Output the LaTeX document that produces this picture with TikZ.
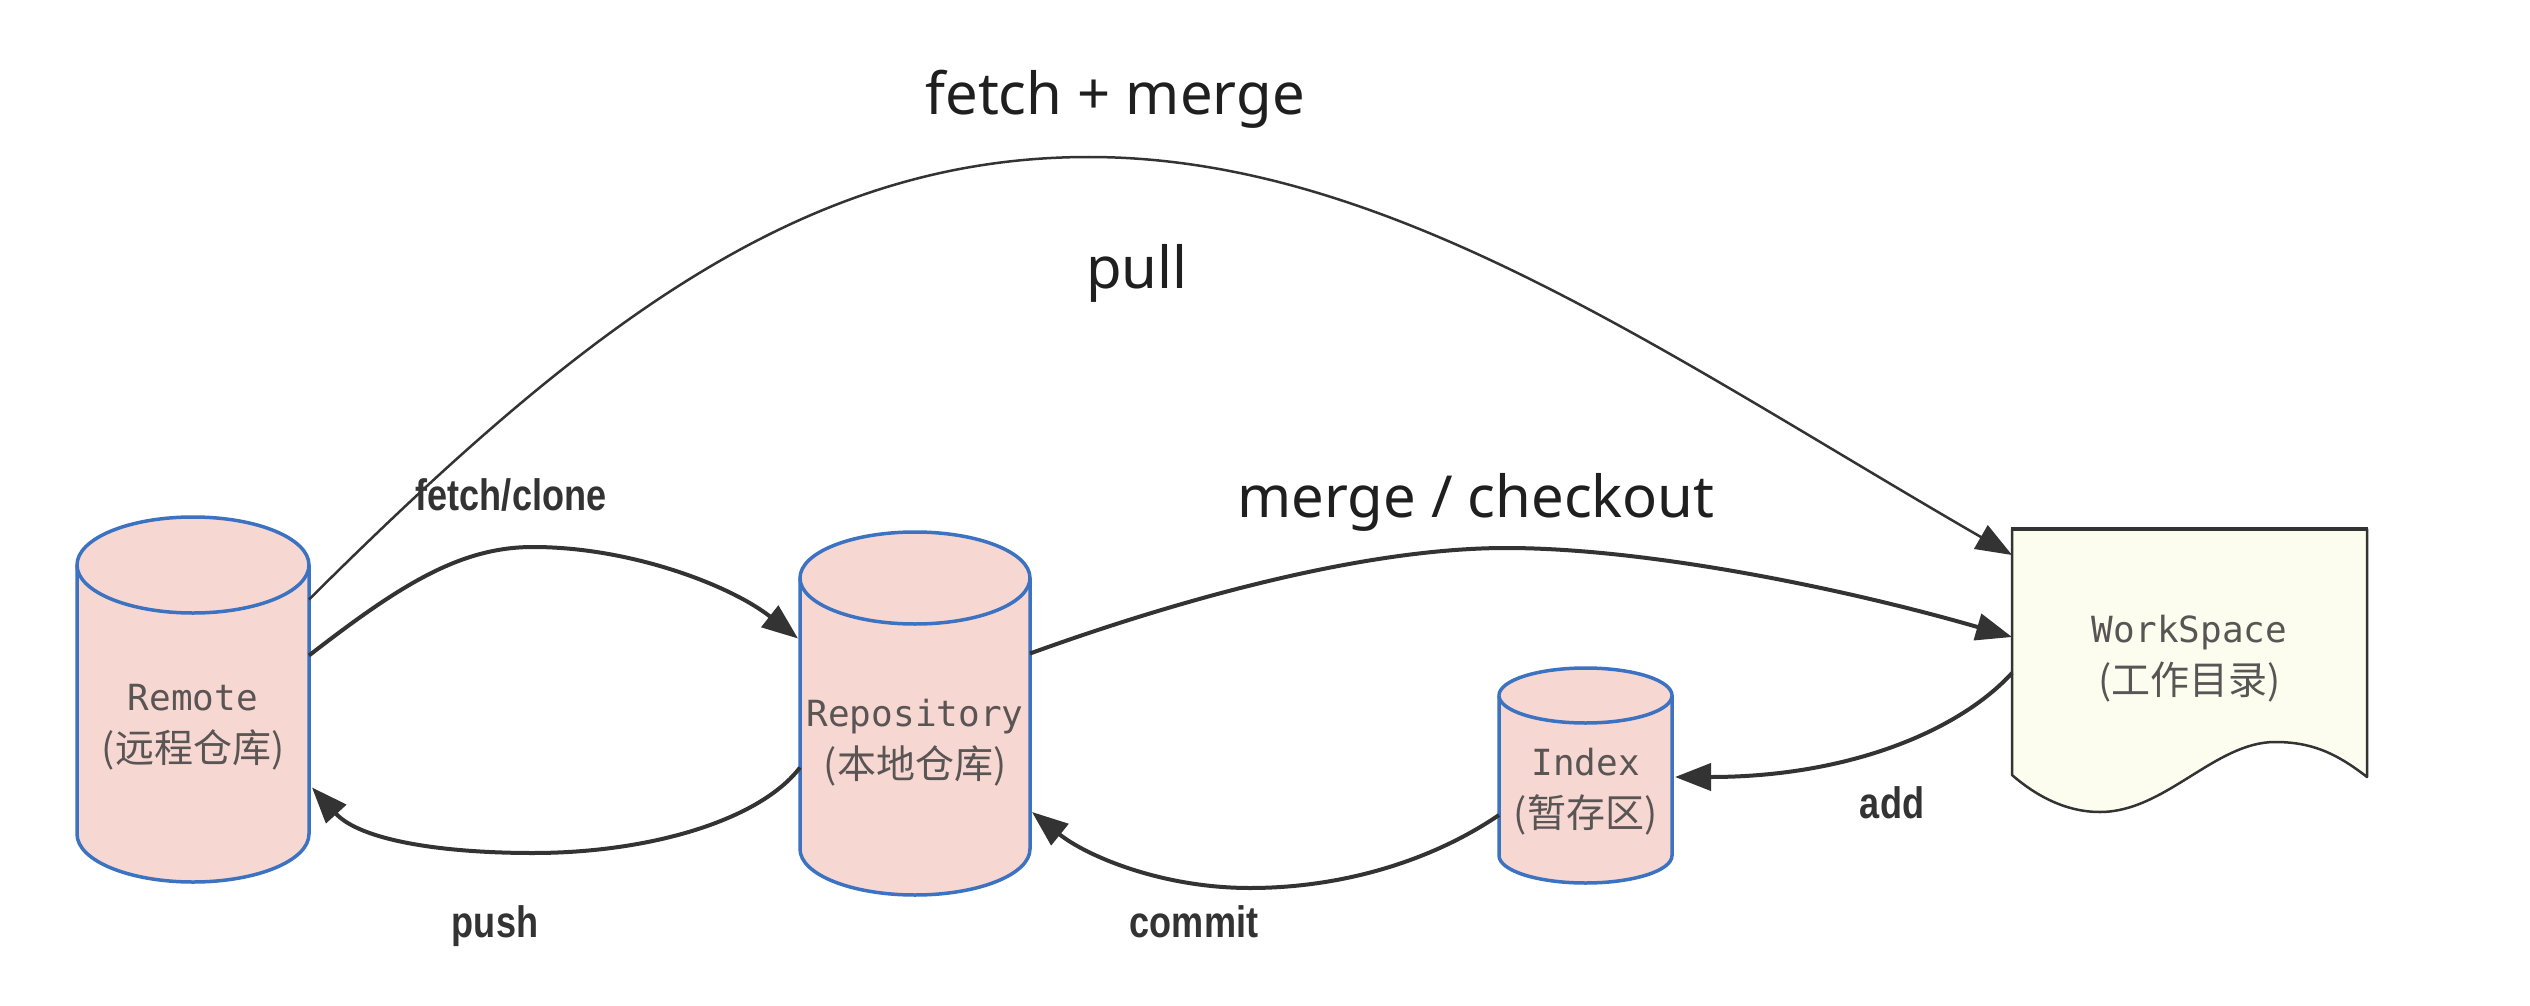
\documentclass[tikz,border=0pt]{standalone}
\usepackage{fontspec}
\usetikzlibrary{arrows.meta,calc}
\newfontfamily\monofont{DejaVu Sans Mono}
\newfontfamily\cjkfont{Noto Sans CJK SC}
\newfontfamily\labelfont{Noto Sans}
\newfontfamily\boldnarrow{Liberation Sans}[FakeStretch=0.82]
\definecolor{cylfill}{HTML}{F7D7D1}
\definecolor{cylline}{HTML}{3C72C2}
\definecolor{docfill}{HTML}{FDFDEF}
\definecolor{ink}{HTML}{333333}
\definecolor{nodeink}{HTML}{5A5555}
\newcommand\cjktext[1]{{\cjkfont\fontsize{39}{52}\selectfont #1}}
\newcommand\cylshape[5]{%
  \filldraw[cyl] (#1-#4,#2+#5) -- (#1-#4,#3-#5)
    arc[start angle=180,end angle=360,x radius=#4pt,y radius=#5pt]
    -- (#1+#4,#2+#5)
    arc[start angle=0,end angle=180,x radius=#4pt,y radius=#5pt] -- cycle;
  \draw[cyl] (#1-#4,#2+#5)
    arc[start angle=180,end angle=360,x radius=#4pt,y radius=#5pt];
}
\begin{document}
\begin{tikzpicture}[x=1pt,y=-1pt,
  cyl/.style={draw=cylline,fill=cylfill,line width=3.5pt},
  docshape/.style={draw=ink,fill=docfill,line width=2.5pt,line join=round},
  anchorbox/.style={rectangle,draw=none,inner sep=0pt,outer sep=0pt},
  nodetext/.style={align=center,text=nodeink,inner sep=0pt,
    font=\monofont\fontsize{36}{52}\selectfont},
  conn/.style={draw=ink,line width=4pt,-{Triangle[length=36pt,width=27pt]}},
  thinconn/.style={draw=ink,line width=2.5pt,-{Triangle[length=36pt,width=27pt]}},
  biglabel/.style={text=black!88,inner sep=0pt,
    font=\labelfont\fontsize{58}{70}\selectfont},
  boldlabel/.style={text=ink,inner sep=0pt,
    font=\boldnarrow\bfseries\fontsize{44}{52}\selectfont}]
\fill[white] (0,0) rectangle (2530,1006);
\useasboundingbox (0,0) rectangle (2530,1006);

% shapes
\cylshape{193}{517}{882}{116}{48}
\cylshape{915}{532}{895}{115}{46}
\cylshape{1585.5}{668}{883}{86.5}{27.5}
\filldraw[docshape] (2012,529) -- (2367,529) -- (2367,777)
  .. controls (2335,752) and (2310,742) .. (2275,742)
  .. controls (2215,742) and (2165,812) .. (2100,812)
  .. controls (2065,812) and (2035,795) .. (2012,775) -- cycle;
\draw[draw=ink,line width=4.5pt] (2010.75,529) -- (2368.25,529);

% anchor nodes
\node[anchorbox,minimum width=232pt,minimum height=365pt] (remote) at (193,699.5) {};
\node[anchorbox,minimum width=230pt,minimum height=363pt] (repo) at (915,713.5) {};
\node[anchorbox,minimum width=173pt,minimum height=215pt] (index) at (1585.5,775.5) {};
\node[anchorbox,minimum width=355pt,minimum height=248pt] (ws) at (2189.5,653) {};

% texts in shapes
\node[nodetext] (remote-txt) at ($(remote)+(0,28)$) {Remote\\\cjktext{(远程仓库)}};
\node[nodetext] (repo-txt) at ($(repo)+(0,29)$) {Repository\\\cjktext{(本地仓库)}};
\node[nodetext] (index-txt) at ($(index)+(0,16)$) {Index\\\cjktext{(暂存区)}};
\node[nodetext] (ws-txt) at ($(ws)+(0,6)$) {WorkSpace\\\cjktext{(工作目录)}};

% connectors
\draw[thinconn] ($(remote.east)+(0,-100)$)
  .. controls (593,317) and (809,157) .. (1089,157)
  .. controls (1389,157) and (1666,355) .. ($(ws.west)+(0,-98)$);
\draw[conn] ($(remote.east)+(0,-44)$)
  .. controls (400,585) and (460,547) .. (533,547)
  .. controls (630,547) and (730,585) .. ($(repo.west)+(-2,-75)$);
\draw[conn] ($(repo.west)+(0,54)$)
  .. controls (760,820) and (650,853) .. (533,853)
  .. controls (440,853) and (360,840) .. ($(remote.east)+(3,88)$);
\draw[conn] ($(repo.east)+(0,-60)$)
  .. controls (1150,610) and (1350,548) .. (1506,548)
  .. controls (1650,548) and (1850,590) .. ($(ws.west)+(0,-16)$);
\draw[conn] ($(ws.west)+(0,20)$)
  .. controls (1960,730) and (1850,777) .. ($(index.east)+(3,1.5)$);
\draw[conn] ($(index.west)+(0,39.5)$)
  .. controls (1430,862) and (1340,888) .. (1250,888)
  .. controls (1160,888) and (1085,855) .. ($(repo.east)+(2,98.5)$);

% labels
\node[biglabel,anchor=base] (lbl-fetchmerge) at (1115,115) {fetch + merge};
\node[biglabel,anchor=base] (lbl-pull) at (1137,288) {pull};
\node[biglabel,anchor=base] (lbl-merge) at (1476,517) {merge / checkout};
\node[boldlabel,anchor=base] (lbl-fetch) at (511,510) {fetch/clone};
\node[boldlabel,anchor=base] (lbl-push) at (495,937) {push};
\node[boldlabel,anchor=base] (lbl-commit) at (1194,937) {commit};
\node[boldlabel,anchor=base] (lbl-add) at (1892,818) {add};
\end{tikzpicture}
\end{document}
